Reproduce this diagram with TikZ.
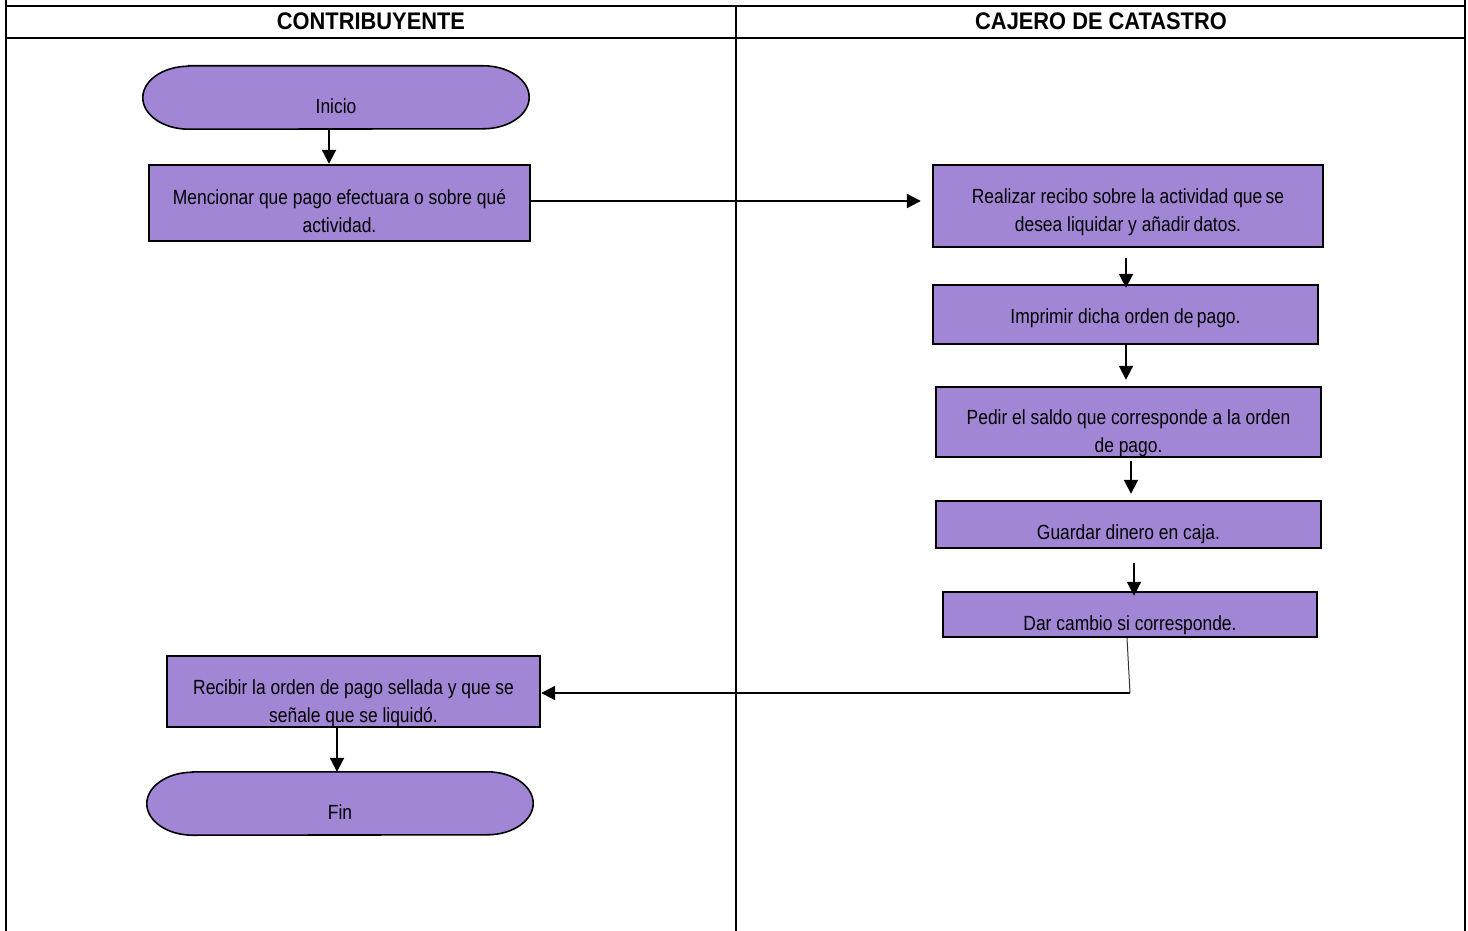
\documentclass[tikz,border=0pt]{standalone}
\usepackage{fontspec}
\setmainfont{Liberation Sans}[FakeStretch=0.85]
\newfontfamily\hdfont{Liberation Sans}[FakeStretch=0.91]
\usetikzlibrary{arrows.meta,calc,backgrounds}
\definecolor{lav}{RGB}{162,134,214}
\tikzset{
  lane/.style={line width=2pt},
  box/.style={draw, fill=lav, line width=2.4pt, rectangle, inner sep=0pt},
  txt/.style={align=center, inner sep=0pt, font=\fontsize{20.5}{28}\selectfont},
  hdr/.style={inner sep=0pt, font=\hdfont\bfseries\fontsize{24}{28}\selectfont},
  arr/.style={line width=2pt, -{Triangle[length=14pt,width=14pt]}},
  thin/.style={line width=1pt, draw=black!80},
  termline/.style={draw, fill=lav, line width=1.6pt}
}
\begin{document}
\begin{tikzpicture}[x=1pt,y=-1pt]
\useasboundingbox (0,0) rectangle (1468,931);
% swimlanes
\coordinate (tl) at (6,0);
\coordinate (bl) at (6,931);
\coordinate (tr) at (1465,0);
\coordinate (br) at (1465,931);
\draw[lane] (tl) -- (bl);
\draw[lane] (tr) -- (br);
\draw[lane] (6,6) -- (1465,6);
\draw[lane] (6,38) -- (1465,38);
\draw[lane] (736,6) -- (736,931);
\node[hdr] (h1) at (371,21) {CONTRIBUYENTE};
\node[hdr] (h2) at (1101,21) {CAJERO DE CATASTRO};

% terminals
\node[minimum width=386pt, minimum height=63pt, inner sep=0pt] (inicio) at (336,97.5) {};
\node[minimum width=386pt, minimum height=63pt, inner sep=0pt] (fin) at (340,803.5) {};
\foreach \n in {inicio,fin}{
  \draw[termline] ($(\n.north west)+(46,0)$) -- ($(\n.north east)+(-46,0)$)
     arc[start angle=-90, end angle=90, x radius=46, y radius=31.5]
     -- ($(\n.south west)+(46,0)$)
     arc[start angle=90, end angle=270, x radius=46, y radius=31.5] -- cycle;
}
\node[txt] (inicioT) at (336,106) {Inicio};
\node[txt] (finT) at (340,812) {Fin};

% process boxes
\node[box, minimum width=381pt, minimum height=76pt] (mencionar) at (339.5,203) {};
\node[txt] (mencionarT) at (339.5,211) {Mencionar que pago efectuara o sobre qué\\actividad.};

\node[box, minimum width=390pt, minimum height=82pt] (realizar) at (1128,206) {};
\node[txt] (realizarT) at (1128,212) {Realizar recibo sobre la actividad que\,se\\desea liquidar y añadir\,datos.};

\node[box, minimum width=385pt, minimum height=59pt] (imprimir) at (1125.5,314.5) {};
\node[txt] (imprimirT) at (1125.5,318) {Imprimir dicha orden de\,pago.};

\node[box, minimum width=385pt, minimum height=70pt] (pedir) at (1128.5,422) {};
\node[txt] (pedirT) at (1128.5,433.5) {Pedir el saldo que corresponde a la orden\\de pago.};

\node[box, minimum width=385pt, minimum height=47pt] (guardar) at (1128.5,524.5) {};
\node[txt] (guardarT) at (1128.5,534) {Guardar dinero en caja.};

\node[box, minimum width=374pt, minimum height=45pt] (dar) at (1130,614.5) {};
\node[txt] (darT) at (1130,625) {Dar cambio si corresponde.};

\node[box, minimum width=373pt, minimum height=71pt] (recibir) at (353.5,691.5) {};
\node[txt] (recibirT) at (353.5,703) {Recibir la orden de pago sellada y que se\\señale que se liquidó.};

% connectors
\draw[arr] ([xshift=-7pt]inicio.south) -- ([xshift=-7pt]inicio.south |- mencionar.north);
\draw[arr, shorten >=11pt] ([yshift=2pt]mencionar.east) -- ([yshift=2pt]mencionar.east -| realizar.west);
\draw[arr, shorten >=-4pt] ([xshift=-2pt,yshift=-10pt]realizar.south) -- ([xshift=-2pt]realizar.south |- imprimir.north);
\draw[arr, shorten >=6pt] ([xshift=0.5pt]imprimir.south) -- ([xshift=0.5pt]imprimir.south |- pedir.north);
\draw[arr, shorten >=6pt] ([xshift=2.5pt,yshift=-3pt]pedir.south) -- ([xshift=2.5pt]pedir.south |- guardar.north);
\draw[arr, shorten >=-5pt] ([xshift=5.5pt,yshift=-14pt]guardar.south) -- ([xshift=5.5pt]guardar.south |- dar.north);
\coordinate (bend) at (1130,693);
\draw[thin] ([xshift=-3pt]dar.south) -- (bend);
\draw[arr] (bend) -- (bend -| recibir.east);
\draw[arr] ([xshift=-16.5pt]recibir.south) -- ([xshift=-16.5pt]recibir.south |- fin.north);
\end{tikzpicture}
\end{document}
